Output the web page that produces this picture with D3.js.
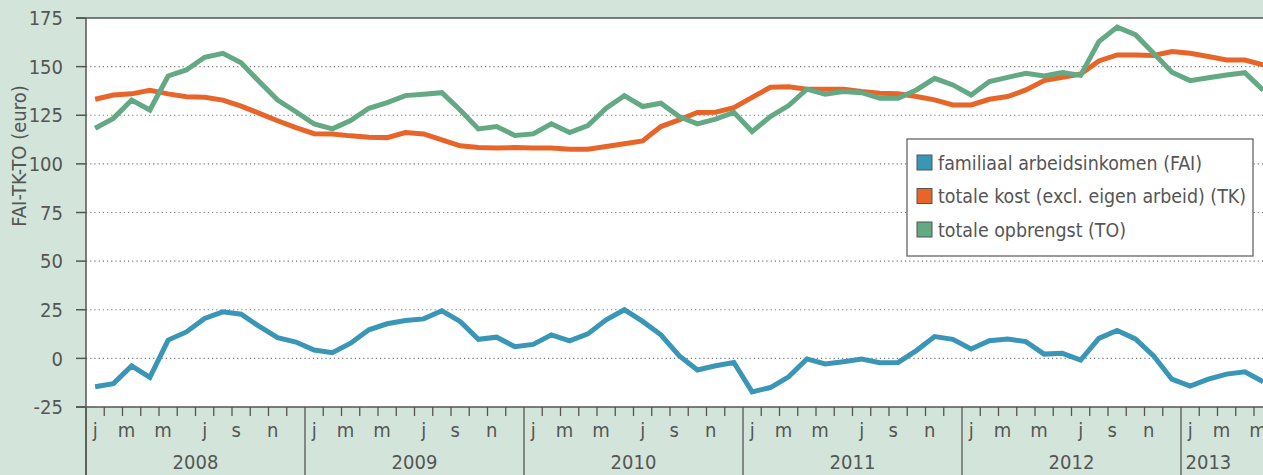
<!DOCTYPE html>
<html>
<head>
<meta charset="utf-8">
<script src="https://cdn.jsdelivr.net/npm/d3@7"></script>
<style>
  body { margin: 0; background: #d3e5da; }
  svg { display: block; }
  text { font-family: "Liberation Sans Narrow", "DejaVu Sans Condensed", "Roboto", sans-serif; fill: #555; }
</style>
</head>
<body>
<script>
// monthly values, Jan 2008 - May 2013
const years = [2008, 2009, 2010, 2011, 2012, 2013]
const monthLabels = ["j", "", "m", "", "m", "", "j", "", "s", "", "n", ""]
const yTicks = [-25, 0, 25, 50, 75, 100, 125, 150, 175]

const fai = [
    -14.6, -13, -3.9, -9.8, 9.4, 13.6, 20.5, 23.9, 22.7, 16.4, 10.7, 8.4,
    4.3, 2.9, 7.8, 14.7, 17.8, 19.5, 20.3, 24.5, 19, 9.8, 10.9, 6,
    7.2, 12.1, 9, 12.6, 19.8, 25, 19, 12.1, 1.4, -6, -3.8, -2.1,
    -17.2, -15, -9.5, -0.3, -2.9, -1.7, -0.3, -2.2, -2.1, 4, 11.2, 9.8,
    4.8, 9.1, 10, 8.6, 2.2, 2.6, -0.9, 10.3, 14.3, 10, 1.2, -10.7,
    -14.3, -10.7, -8.1, -6.9, -12
]
const tk = [
    133.2, 135.4, 136, 137.8, 136, 134.5, 134.3, 132.8, 129.7, 126, 122.2, 118.6,
    115.5, 115.4, 114.4, 113.7, 113.5, 116.1, 115.4, 112.3, 109.3, 108.4, 108.1, 108.4,
    108.1, 108.1, 107.5, 107.5, 108.9, 110.3, 111.8, 119.2, 122.6, 126.4, 126.6, 128.9,
    134.2, 139.4, 139.7, 138.4, 138.4, 138.4, 137.2, 136.3, 136, 134.6, 132.9, 130.3,
    130.3, 133.2, 134.6, 138, 142.8, 144.5, 146.2, 152.9, 156, 156, 155.7, 157.8,
    156.9, 155.2, 153.4, 153.4, 150.9
]
const to = [
    118.3, 123.4, 132.8, 127.7, 145.2, 148.3, 154.8, 156.8, 152, 142.2, 132.8, 126.8,
    120.5, 118, 122.3, 128.6, 131.5, 135.1, 135.8, 136.6, 127.7, 118, 119.2, 114.6,
    115.4, 120.6, 116.1, 119.7, 128.6, 135.1, 129.5, 131.2, 124.3, 120.6, 123, 126.5,
    116.6, 124.3, 130, 138.4, 135.8, 137.2, 136.6, 133.7, 133.7, 138, 144, 140.6,
    135.4, 142.3, 144.5, 146.6, 145.2, 146.9, 145.5, 162.9, 170.3, 166.4, 156.9, 147.1,
    142.8, 144.3, 145.7, 146.9, 137.9
]

const series = [
    { name: "familiaal arbeidsinkomen (FAI)", values: fai, color: "#3a96b6" },
    { name: "totale kost (excl. eigen arbeid) (TK)", values: tk, color: "#e8652a" },
    { name: "totale opbrengst (TO)", values: to, color: "#63a983" }
]

const width = 1263, height = 475
const plotLeft = 86, plotTop = 18, plotBottom = 407

const x = d3.scaleLinear().domain([0, years.length * 12]).range([plotLeft, plotLeft + years.length * 219])
const y = d3.scaleLinear().domain([-25, 175]).range([plotBottom, plotTop])

const svg = d3.select("body").append("svg")
    .attr("width", width)
    .attr("height", height)

svg.append("rect")
    .attr("width", width).attr("height", height)
    .attr("fill", "#d3e5da")

svg.append("rect")
    .attr("x", plotLeft).attr("y", plotTop)
    .attr("width", width - plotLeft).attr("height", plotBottom - plotTop)
    .attr("fill", "white")

svg.append("clipPath").attr("id", "plot")
    .append("rect")
    .attr("x", plotLeft).attr("y", plotTop)
    .attr("width", width - plotLeft).attr("height", plotBottom - plotTop)

// grid
svg.append("g").selectAll("line")
    .data(yTicks.filter(d => d > -25 && d < 175))
    .enter().append("line")
    .attr("x1", plotLeft).attr("x2", width)
    .attr("y1", d => y(d)).attr("y2", d => y(d))
    .attr("stroke", "#777")
    .attr("stroke-width", 1.2)
    .attr("stroke-dasharray", "1.2,3")

// y axis
const yAxis = svg.append("g")
yAxis.selectAll("line")
    .data(yTicks)
    .enter().append("line")
    .attr("x1", plotLeft - 10).attr("x2", plotLeft)
    .attr("y1", d => y(d)).attr("y2", d => y(d))
    .attr("stroke", "#555").attr("stroke-width", 1.5)
yAxis.selectAll("text")
    .data(yTicks)
    .enter().append("text")
    .attr("x", 63)
    .attr("y", d => y(d))
    .attr("dy", "0.36em")
    .attr("text-anchor", "end")
    .attr("font-size", 20)
    .text(d => d)

svg.append("text")
    .attr("transform", "translate(26,156) rotate(-90)")
    .attr("text-anchor", "middle")
    .attr("font-size", 20)
    .text("FAI-TK-TO (euro)")

// top border, x axis line, left border
svg.append("line")
    .attr("x1", plotLeft - 10).attr("x2", width)
    .attr("y1", plotTop).attr("y2", plotTop)
    .attr("stroke", "#555").attr("stroke-width", 1.5)
svg.append("line")
    .attr("x1", plotLeft - 10).attr("x2", width)
    .attr("y1", plotBottom).attr("y2", plotBottom)
    .attr("stroke", "#555").attr("stroke-width", 1.5)
svg.append("line")
    .attr("x1", plotLeft).attr("x2", plotLeft)
    .attr("y1", plotTop).attr("y2", height)
    .attr("stroke", "#555").attr("stroke-width", 1.5)

// month ticks and labels
const months = d3.range(years.length * 12)
svg.append("g").selectAll("line")
    .data(months)
    .enter().append("line")
    .attr("x1", d => x(d)).attr("x2", d => x(d))
    .attr("y1", plotBottom).attr("y2", d => d % 12 === 0 ? height : plotBottom + 9)
    .attr("stroke", "#555").attr("stroke-width", 1.3)

svg.append("g").selectAll("text")
    .data(months.filter(d => monthLabels[d % 12] !== ""))
    .enter().append("text")
    .attr("x", d => x(d + 0.5) - (d % 12 === 0 || d % 12 === 6 ? 0 : 5))
    .attr("y", 437)
    .attr("text-anchor", "middle")
    .attr("font-size", 20)
    .text(d => monthLabels[d % 12])

svg.append("g").selectAll("text")
    .data(years)
    .enter().append("text")
    .attr("x", (d, i) => {
        const a = x(i * 12), b = x(i * 12 + 12)
        return b > width ? (a + x(i * 12 + 3)) / 2 : (a + b) / 2
    })
    .attr("y", 469)
    .attr("text-anchor", "middle")
    .attr("font-size", 20)
    .text(d => d)

// lines
const line = d3.line()
    .x((d, i) => x(i + 0.5))
    .y(d => y(d))

svg.append("g").attr("clip-path", "url(#plot)")
    .selectAll("path")
    .data(series)
    .enter().append("path")
    .attr("d", d => line(d.values))
    .attr("fill", "none")
    .attr("stroke", d => d.color)
    .attr("stroke-width", 5)

// legend
const legend = svg.append("g").attr("transform", "translate(907,139)")
legend.append("rect")
    .attr("width", 346).attr("height", 117)
    .attr("fill", "white")
    .attr("stroke", "#666").attr("stroke-width", 1.3)

const item = legend.selectAll(".item")
    .data(series)
    .enter().append("g")
    .attr("class", "item")
    .attr("transform", (d, i) => "translate(10," + (24 + i * 33.5) + ")")
item.append("rect")
    .attr("x", 0).attr("y", -8)
    .attr("width", 15).attr("height", 15)
    .attr("fill", d => d.color)
    .attr("stroke", "#555").attr("stroke-width", 1)
item.append("text")
    .attr("x", 21)
    .attr("dy", "0.35em")
    .attr("font-size", 19.4)
    .text(d => d.name)
</script>
</body>
</html>
